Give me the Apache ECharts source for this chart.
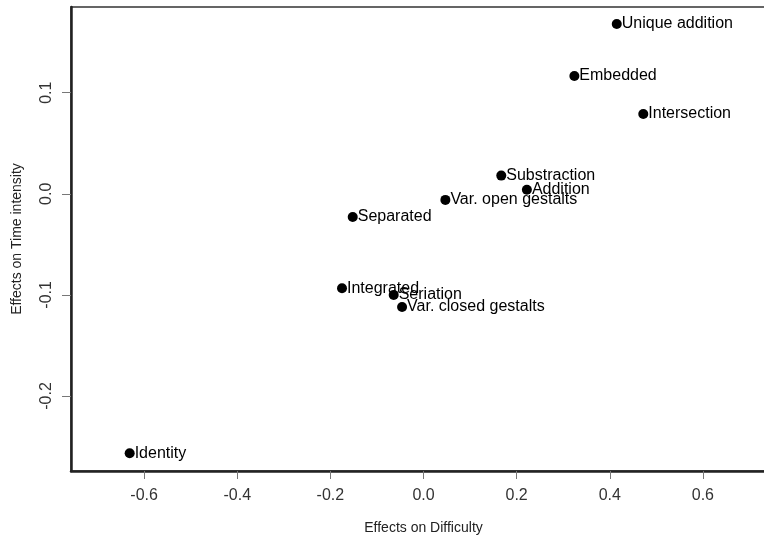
<!DOCTYPE html>
<html>
<head>
<meta charset="utf-8">
<script src="https://cdn.jsdelivr.net/npm/echarts@6/dist/echarts.min.js"></script>
<style>html,body{margin:0;padding:0;background:#fff;}#c{width:764px;height:542px;}</style>
</head>
<body>
<div id="c"></div>
<script>
const names = ["Unique addition","Embedded","Intersection","Substraction","Addition","Var. open gestalts","Separated","Integrated","Seriation","Var. closed gestalts","Identity"];
const difficulty = [0.415,0.324,0.472,0.167,0.222,0.047,-0.152,-0.175,-0.064,-0.046,-0.631];
const timeIntensity = [0.168,0.1165,0.079,0.018,0.004,-0.006,-0.023,-0.0935,-0.100,-0.112,-0.2567];
const xTicks = [-0.6,-0.4,-0.2,0.0,0.2,0.4,0.6];
const yTicks = [-0.2,-0.1,0.0,0.1];

const font = '"Liberation Sans", Arial, sans-serif';
const data = names.map((n,i)=>({name:n, value:[difficulty[i], timeIntensity[i]]}));
const fmt = v => { const s = Number(v).toFixed(1); return s === "-0.0" ? "0.0" : s; };

const chart = echarts.init(document.getElementById('c'));
chart.setOption({
  animation:false,
  backgroundColor:'#fff',
  grid:{left:71, top:7, width:705, height:464, outerBoundsMode:'none', containLabel:false, show:true, borderColor:'#333', borderWidth:1.5, backgroundColor:'transparent'},
  xAxis:{
    type:'value', min:-0.757, max:0.757,
    name:'Effects on Difficulty', nameLocation:'middle', nameGap:50,
    nameTextStyle:{fontFamily:font, fontSize:14, color:'#222'},
    axisLine:{show:true, onZero:false, lineStyle:{color:'#222', width:2.5}},
    axisTick:{show:true, length:8, customValues:xTicks, lineStyle:{color:'#777', width:1}},
    axisLabel:{customValues:xTicks, formatter:fmt, margin:17, fontFamily:font, fontSize:16, color:'#333'},
    splitLine:{show:false}
  },
  yAxis:{
    type:'value', min:-0.2742, max:0.1848,
    name:'Effects on Time intensity', nameLocation:'middle', nameGap:47,
    nameTextStyle:{fontFamily:font, fontSize:14, color:'#222'},
    axisLine:{show:true, onZero:false, lineStyle:{color:'#222', width:2.5}},
    axisTick:{show:true, length:9, customValues:yTicks, lineStyle:{color:'#777', width:1}},
    axisLabel:{customValues:yTicks, formatter:fmt, rotate:90, margin:16, fontFamily:font, fontSize:16, color:'#333'},
    splitLine:{show:false}
  },
  series:[{
    type:'scatter',
    data:data,
    symbol:'circle', symbolSize:10,
    itemStyle:{color:'#000', opacity:1},
    emphasis:{disabled:true},
    label:{show:true, position:'right', distance:0, formatter:p=>p.name, fontFamily:font, fontSize:16, color:'#000'},
    labelLayout:{hideOverlap:false}
  }]
});
</script>
</body>
</html>
